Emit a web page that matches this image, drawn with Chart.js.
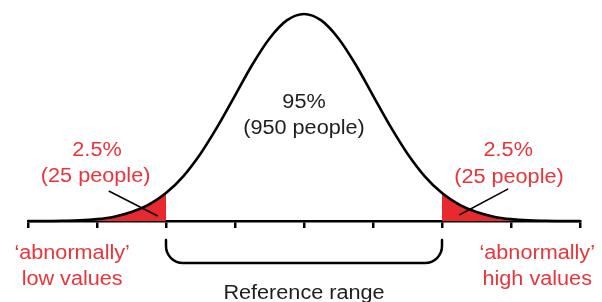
<!DOCTYPE html>
<html>
<head>
<meta charset="utf-8">
<script src="https://cdn.jsdelivr.net/npm/chart.js@4/dist/chart.umd.min.js"></script>
<style>
  html, body { margin: 0; padding: 0; background: #fff; }
  #wrap { width: 602px; height: 302px; }
</style>
</head>
<body>
<div id="wrap"><canvas id="c" width="602" height="302"></canvas></div>
<script>
// Positions along the axis, in standard deviations from the mean
const xValues = [-4, -3.75, -3.5, -3.25, -3, -2.75, -2.5, -2.25, -2, -1.75, -1.5, -1.25, -1, -0.75, -0.5, -0.25, 0,
                 0.25, 0.5, 0.75, 1, 1.25, 1.5, 1.75, 2, 2.25, 2.5, 2.75, 3, 3.25, 3.5, 3.75, 4];
// Curve height, as % of the peak
const yValues = [0, 0, 0.1, 0.3, 0.9, 2.1, 4.3, 7.9, 13.5, 21.6, 32.5, 45.8, 60.6, 75.5, 88.2, 96.9, 100,
                 96.9, 88.2, 75.5, 60.6, 45.8, 32.5, 21.6, 13.5, 7.9, 4.3, 2.1, 0.9, 0.3, 0.1, 0, 0];
// Axis tick positions
const tickValues = [-4, -3, -2, -1, 0, 1, 2, 3, 4];
// Reference range limits (tails beyond are shaded)
const lowLimit = -2;
const highLimit = 2;
// Labels
const centerLabel = ['95%', '(950 people)'];
const tailLabel = ['2.5%', '(25 people)'];
const lowLabel = ['\u2018abnormally\u2019', 'low values'];
const highLabel = ['\u2018abnormally\u2019', 'high values'];
const rangeLabel = 'Reference range';

const RED = '#e8292e';
const RED_TEXT = '#e8353a';
const INK = '#000000';
const TEXT = '#1e1e1e';

const curve = xValues.map((x, i) => ({ x: x, y: yValues[i] }));
const leftTail = curve.filter(p => p.x <= lowLimit);
const rightTail = curve.filter(p => p.x >= highLimit);

const FONT = '19.5px "Liberation Sans", Arial, sans-serif';
const SX = 1.11;

function txt(ctx, s, x, y, color) {
  ctx.save();
  ctx.font = FONT;
  ctx.fillStyle = color;
  ctx.textAlign = 'center';
  ctx.textBaseline = 'alphabetic';
  ctx.translate(x, y);
  ctx.scale(SX, 1);
  ctx.fillText(s, 0, 0);
  ctx.restore();
}

const annotations = {
  id: 'annotations',
  afterDraw(chart) {
    const ctx = chart.ctx;
    const xs = chart.scales.x, ys = chart.scales.y;
    const X = v => xs.getPixelForValue(v);
    const Y = v => ys.getPixelForValue(v);
    const axisY = chart.chartArea.bottom;

    // pointer lines
    ctx.save();
    ctx.strokeStyle = INK;
    ctx.lineWidth = 1.5;
    ctx.lineCap = 'butt';
    ctx.beginPath();
    ctx.moveTo(X(-2.83), Y(14.5));
    ctx.lineTo(X(-2.12), Y(2.4));
    ctx.moveTo(X(2.96), Y(15.5));
    ctx.lineTo(X(2.25), Y(2.9));
    ctx.stroke();

    // reference range bracket
    const xl = X(lowLimit), xr = X(highLimit);
    const top = axisY + 19, bot = axisY + 42, r = 17;
    ctx.lineWidth = 2.5;
    ctx.lineCap = 'round';
    ctx.lineJoin = 'round';
    ctx.beginPath();
    ctx.moveTo(xl, top);
    ctx.lineTo(xl, bot - r);
    ctx.arcTo(xl, bot, xl + r, bot, r);
    ctx.lineTo(xr - r, bot);
    ctx.arcTo(xr, bot, xr, bot - r, r);
    ctx.lineTo(xr, top);
    ctx.stroke();
    ctx.restore();

    // texts
    txt(ctx, centerLabel[0], X(0), Y(54.6), TEXT);
    txt(ctx, centerLabel[1], X(0), Y(42), TEXT);
    txt(ctx, tailLabel[0], X(-3), Y(31.4), RED_TEXT);
    txt(ctx, tailLabel[1], X(-3.02), Y(18.8), RED_TEXT);
    txt(ctx, tailLabel[0], X(2.96), Y(31.4), RED_TEXT);
    txt(ctx, tailLabel[1], X(2.97), Y(18.5), RED_TEXT);
    txt(ctx, lowLabel[0], X(-3.36), axisY + 37.5, RED_TEXT);
    txt(ctx, lowLabel[1], X(-3.36), axisY + 64, RED_TEXT);
    txt(ctx, highLabel[0], X(3.38), axisY + 38, RED_TEXT);
    txt(ctx, highLabel[1], X(3.38), axisY + 64, RED_TEXT);
    txt(ctx, rangeLabel, X(0), axisY + 78, TEXT);
  }
};

new Chart(document.getElementById('c'), {
  type: 'line',
  data: {
    datasets: [
      {
        data: curve,
        borderColor: INK,
        borderWidth: 2.6,
        pointRadius: 0,
        fill: false,
        cubicInterpolationMode: 'monotone',
        clip: false,
        order: 0
      },
      {
        data: leftTail,
        borderWidth: 0,
        borderColor: 'rgba(0,0,0,0)',
        backgroundColor: RED,
        pointRadius: 0,
        fill: 'origin',
        cubicInterpolationMode: 'monotone',
        order: 1
      },
      {
        data: rightTail,
        borderWidth: 0,
        borderColor: 'rgba(0,0,0,0)',
        backgroundColor: RED,
        pointRadius: 0,
        fill: 'origin',
        cubicInterpolationMode: 'monotone',
        order: 1
      }
    ]
  },
  options: {
    responsive: false,
    devicePixelRatio: 1,
    animation: false,
    events: [],
    layout: { padding: { left: 28, right: 22, top: 14, bottom: 74 } },
    plugins: { legend: { display: false }, tooltip: { enabled: false } },
    scales: {
      x: {
        type: 'linear',
        min: -4,
        max: 4,
        afterBuildTicks: s => { s.ticks = tickValues.map(v => ({ value: v })); },
        ticks: { display: false },
        grid: { drawOnChartArea: false, drawTicks: true, tickLength: 7, color: INK, lineWidth: 2.5 },
        border: { display: true, color: INK, width: 2.5 }
      },
      y: {
        type: 'linear',
        min: 0,
        max: 100,
        display: false
      }
    }
  },
  plugins: [annotations]
});
</script>
</body>
</html>
